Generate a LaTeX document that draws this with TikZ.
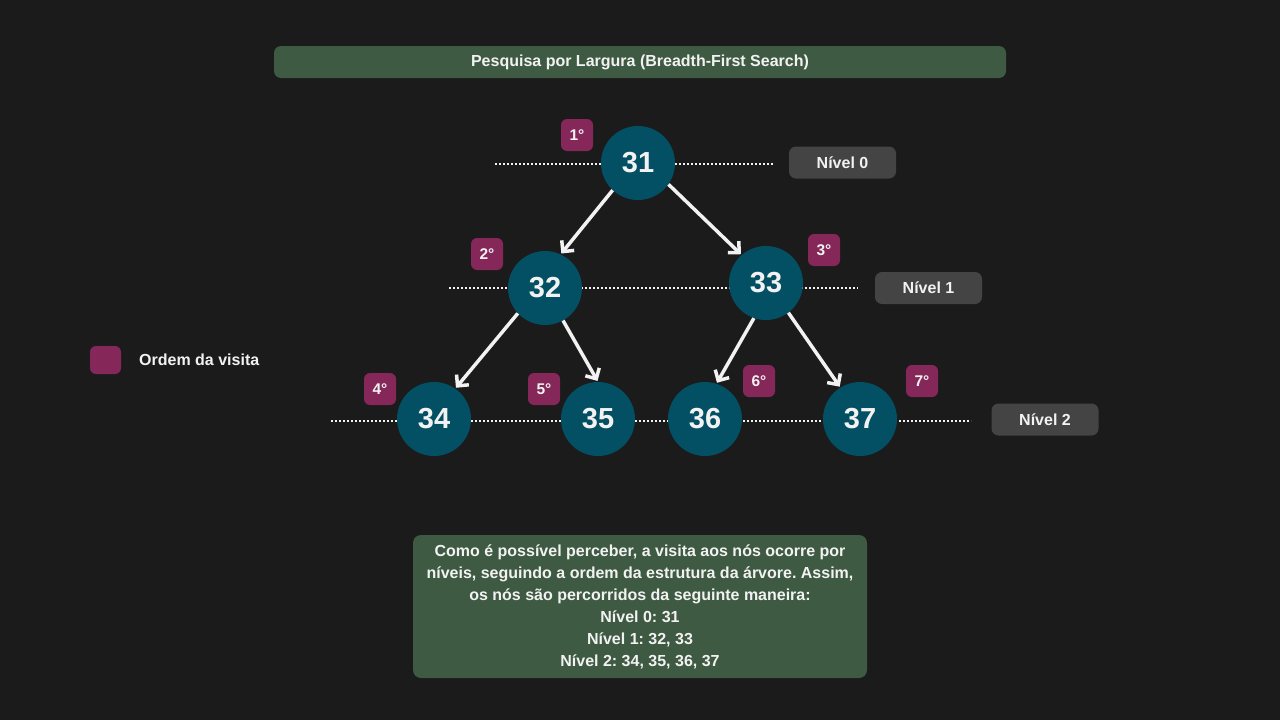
\documentclass[tikz,border=0pt]{standalone}
\usepackage{fontspec}
\setmainfont{Liberation Sans}
\usetikzlibrary{arrows.meta}
\frenchspacing
\definecolor{bg}{HTML}{1B1B1B}
\definecolor{hdr}{HTML}{3F5A42}
\definecolor{nodec}{HTML}{034F63}
\definecolor{badge}{HTML}{86275A}
\definecolor{lvl}{HTML}{444444}
\definecolor{txt}{HTML}{F2F2F2}
\tikzset{
  tnode/.style={circle, fill=nodec, minimum size=74pt, inner sep=0pt, text=txt, font=\fontsize{29}{32}\selectfont\bfseries},
  badgebox/.style={rounded corners=6pt, fill=badge, minimum width=32pt, minimum height=32pt, inner sep=0pt, text=txt, font=\fontsize{15.5}{18}\selectfont\bfseries},
  lvlbox/.style={rounded corners=7pt, fill=lvl, minimum width=107pt, minimum height=32pt, inner sep=0pt, text=txt, font=\fontsize{16}{18}\selectfont\bfseries},
  dotline/.style={draw=txt, line width=2pt, dash pattern=on 2pt off 2pt},
  arr/.style={draw=txt, line width=3.5pt, -{Straight Barb[length=8pt,width=16pt,line width=3.5pt]}, shorten >=1pt},
}
\begin{document}
\begin{tikzpicture}[x=1pt,y=-1pt]
\fill[bg] (0,0) rectangle (1280,720);
\useasboundingbox (0,0) rectangle (1280,720);
% title
\node[rounded corners=7pt, fill=hdr, minimum width=732pt, minimum height=32pt, inner sep=0pt, text=txt, font=\fontsize{16}{18}\selectfont\bfseries] (title) at (640,62) {Pesquisa por Largura (Breadth-First Search)};
% dotted level lines
\coordinate (l0a) at (495,164); \coordinate (l0b) at (773,164);
\coordinate (l1a) at (449,288); \coordinate (l1b) at (858,288);
\coordinate (l2a) at (331,421); \coordinate (l2b) at (971,421);
\draw[dotline] (l0a) -- (l0b);
\draw[dotline] (l1a) -- (l1b);
\draw[dotline] (l2a) -- (l2b);
% tree nodes
\node[tnode] (n31) at (638,163) {31};
\node[tnode] (n32) at (545,288) {32};
\node[tnode] (n33) at (766,283) {33};
\node[tnode] (n34) at (434,419) {34};
\node[tnode] (n35) at (598,419) {35};
\node[tnode] (n36) at (705,419) {36};
\node[tnode] (n37) at (860,419) {37};
% arrows
\draw[arr] (n31.-133) -- (n32.65);
\draw[arr] (n31.-35) -- (n33.131);
\draw[arr] (n32.-137) -- (n34.55);
\draw[arr] (n32.-61) -- (n35.90);
\draw[arr] (n33.-109) -- (n36.72);
\draw[arr] (n33.-53) -- (n37.122);
% badges
\node[badgebox] (b1) at (577,135) {1°};
\node[badgebox] (b2) at (487,254) {2°};
\node[badgebox] (b3) at (824,250) {3°};
\node[badgebox] (b4) at (380,389) {4°};
\node[badgebox] (b5) at (544,389) {5°};
\node[badgebox] (b6) at (759,381) {6°};
\node[badgebox] (b7) at (922,381) {7°};
% level labels
\node[lvlbox] (lv0) at (842.5,162.5) {Nível 0};
\node[lvlbox] (lv1) at (928.5,288) {Nível 1};
\node[lvlbox] (lv2) at (1045,419.5) {Nível 2};
% legend
\node[rounded corners=6pt, fill=badge, minimum width=31pt, minimum height=28pt, inner sep=0pt] (leg) at (105.5,360) {};
\node[anchor=west, text=txt, inner sep=0pt, font=\fontsize{16}{18}\selectfont\bfseries] (legt) at (139,359.5) {Ordem da visita};
% bottom box
\node[rounded corners=8pt, fill=hdr, minimum width=454pt, minimum height=143pt, inner sep=0pt, text=txt, align=center, font=\fontsize{16}{22}\selectfont\bfseries] (note) at (640,606.5) {Como é possível perceber, a visita aos nós ocorre por\\níveis, seguindo a ordem da estrutura da árvore. Assim,\\os nós são percorridos da seguinte maneira:\\Nível 0: 31\\Nível 1: 32, 33\\Nível 2: 34, 35, 36, 37};
\end{tikzpicture}
\end{document}
